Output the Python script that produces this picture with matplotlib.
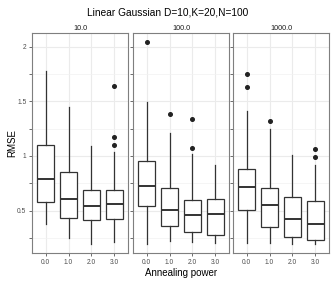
import matplotlib
matplotlib.use('Agg')
import matplotlib.pyplot as plt

plt.rcParams['font.family'] = ['Liberation Sans', 'DejaVu Sans']

facets = ['10.0', '100.0', '1000.0']
powers = ['0.0', '1.0', '2.0', '3.0']

# box stats per facet, one entry per annealing power: (whislo, q1, med, q3, whishi)
stats_10 = [(0.375, 0.579, 0.792, 1.098, 1.778),
            (0.247, 0.436, 0.609, 0.851, 1.451),
            (0.195, 0.414, 0.540, 0.686, 1.094),
            (0.216, 0.423, 0.564, 0.686, 1.034)]
stats_100 = [(0.192, 0.542, 0.725, 0.954, 1.497),
             (0.222, 0.360, 0.509, 0.710, 1.207),
             (0.216, 0.305, 0.457, 0.598, 1.015),
             (0.201, 0.280, 0.472, 0.604, 0.915)]
stats_1000 = [(0.201, 0.506, 0.713, 0.884, 1.415),
              (0.207, 0.350, 0.552, 0.704, 1.245),
              (0.195, 0.262, 0.420, 0.628, 1.006),
              (0.195, 0.235, 0.378, 0.591, 0.915)]
outliers_10 = [[], [], [], [1.64, 1.177, 1.098]]
outliers_100 = [[2.04], [1.387], [1.338, 1.076], []]
outliers_1000 = [[1.75, 1.634], [1.323], [], [1.067, 0.994]]

all_stats = [stats_10, stats_100, stats_1000]
all_out = [outliers_10, outliers_100, outliers_1000]

fig = plt.figure(figsize=(3.36, 2.84), dpi=100)
lefts = [32, 133, 233]
pw = 96
bottom, top = 31, 251
edge = '#333333'

for i, left in enumerate(lefts):
    ax = fig.add_axes([left / 336, bottom / 284, pw / 336, (top - bottom) / 284])
    bxp_stats = []
    for s, o in zip(all_stats[i], all_out[i]):
        lo, q1, med, q3, hi = s
        bxp_stats.append(dict(whislo=lo, q1=q1, med=med, q3=q3, whishi=hi, fliers=o))
    ax.bxp(bxp_stats, positions=range(len(powers)), widths=0.75, showcaps=False,
           patch_artist=True,
           boxprops=dict(facecolor='white', edgecolor=edge, linewidth=0.9),
           whiskerprops=dict(color=edge, linewidth=0.9),
           medianprops=dict(color=edge, linewidth=1.4),
           flierprops=dict(marker='o', markerfacecolor='#222222', markeredgecolor='#222222',
                           markersize=2.6, linestyle='none'),
           zorder=3)
    ax.set_xlim(-0.6, 3.6)
    ax.set_ylim(0.1125, 2.125)
    ax.set_xticks(range(len(powers)))
    ax.set_xticklabels(powers, fontsize=4.8, color='#4d4d4d')
    ax.set_yticks([0.5, 1.0, 1.5, 2.0])
    ax.set_yticks([0.25, 0.75, 1.25, 1.75], minor=True)
    if i == 0:
        ax.set_yticklabels(['0.5', '1', '1.5', '2'], fontsize=4.8, color='#4d4d4d')
        ax.set_ylabel('RMSE', fontsize=7)
        ax.yaxis.set_label_coords(-0.15, 0.5)
    else:
        ax.set_yticklabels([])
        ax.tick_params(axis='y', which='major', length=0)
    ax.tick_params(axis='both', which='major', length=2, width=0.5, color='#333333', pad=2)
    ax.tick_params(axis='y', which='minor', length=2, width=0.5, color='#333333')
    ax.grid(True, which='major', color='#ebebeb', linewidth=0.8, zorder=0)
    ax.grid(True, which='minor', axis='y', color='#f2f2f2', linewidth=0.5, zorder=0)
    ax.set_axisbelow(True)
    for sp in ax.spines.values():
        sp.set_color('#7f7f7f')
        sp.set_linewidth(0.8)
    ax.set_title(facets[i], fontsize=5.2, pad=2.5, color='#1a1a1a')
    if i == 1:
        ax.set_xlabel('Annealing power', fontsize=7, labelpad=2)

fig.suptitle('Linear Gaussian D=10,K=20,N=100', fontsize=7.3, y=0.975)
fig.savefig('out.png', dpi=100)
